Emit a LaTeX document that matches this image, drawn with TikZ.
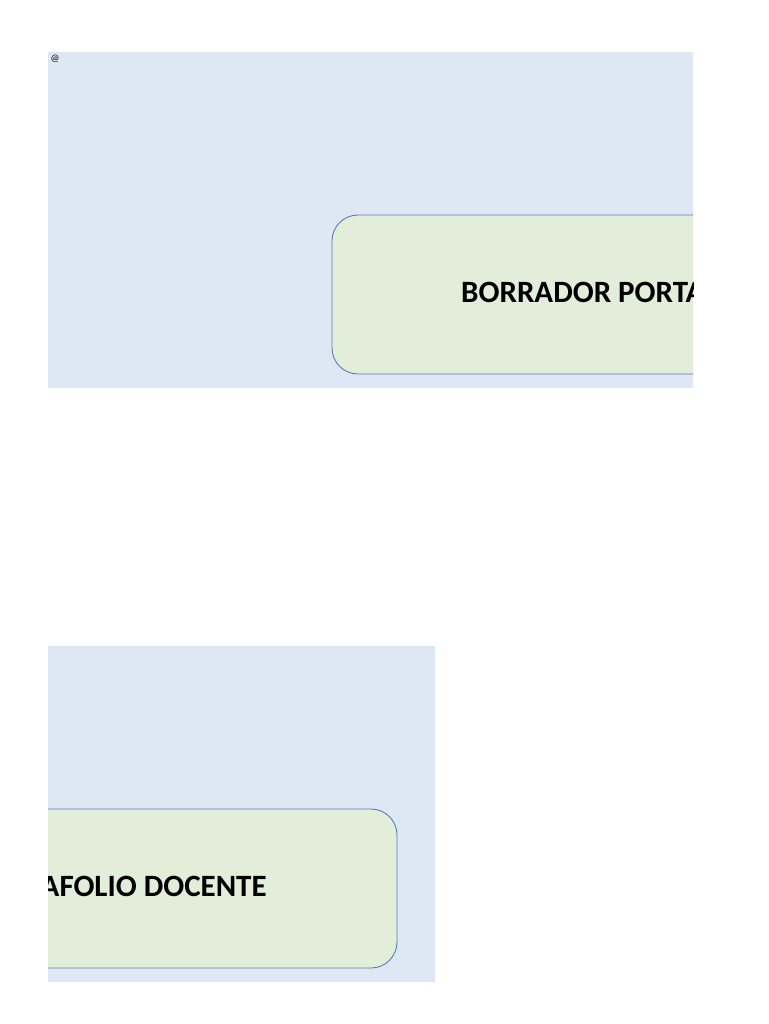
\documentclass[tikz,border=0pt]{standalone}
\usepackage{fontspec}
\setmainfont{Carlito}
\definecolor{panelblue}{HTML}{DEE8F4}
\definecolor{boxgreen}{HTML}{E2EED9}
\definecolor{boxedge}{HTML}{5A7CB6}
\tikzset{
  panel/.style={fill=panelblue, draw=none},
  greenbox/.style={fill=boxgreen, draw=boxedge, line width=0.9pt, rounded corners=26pt},
  boxtext/.style={font=\fontsize{31}{37}\selectfont\bfseries, text=black, anchor=base, inner sep=0pt},
}
\begin{document}
\begin{tikzpicture}[x=1pt,y=-1pt]
\useasboundingbox[fill=white] (0,0) rectangle (768,1024);
% top half of the page-split panel
\begin{scope}[shift={(48,52)}]
  \clip (0,0) rectangle (645,336);
  \fill[panel] (0,0) rectangle (1032,336);
  \draw[greenbox] (284,163) rectangle (994,322);
  \node[boxtext] (t1) at (638.5,250) {BORRADOR PORTAFOLIO DOCENTE};
\end{scope}
% bottom half (continuation)
\begin{scope}[shift={(-597,646)}]
  \clip (645,0) rectangle (1032,336);
  \fill[panel] (0,0) rectangle (1032,336);
  \draw[greenbox] (284,163) rectangle (994,322);
  \node[boxtext] (t2) at (638.5,250) {BORRADOR PORTAFOLIO DOCENTE};
\end{scope}
\node[font=\fontsize{10}{11}\selectfont, inner sep=0pt, anchor=base west] (at) at (50.5,62) {@};
\end{tikzpicture}
\end{document}
